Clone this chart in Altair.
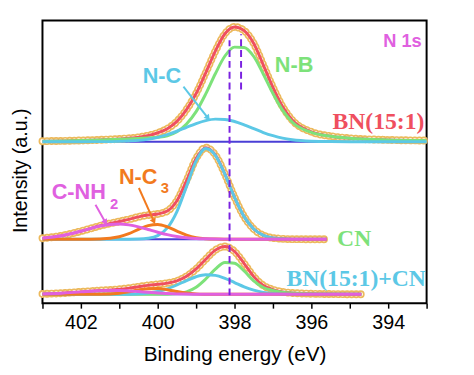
import altair as alt
import pandas as pd

# ---------------- data ----------------
# Top spectrum: BN(15:1)
x_top = [403, 402.5, 402, 401.5, 401, 400.5, 400, 399.75, 399.5, 399.25, 399, 398.75,
         398.5, 398.25, 398, 397.75, 397.5, 397.25, 397, 396.75, 396.5, 396, 395.5, 395, 394, 393]
top_fit = [0.5, 0.8, 1.2, 1.85, 2.8, 4.5, 8.9, 13.2, 20.6, 32.6, 48.9, 69.9,
           91.9, 109.6, 116.5, 112.8, 99.7, 77.8, 55.1, 35.6, 22.0, 10.0, 5.6, 3.5, 1.8, 1.2]
top_nb = [0.5, 0.8, 1.2, 1.8, 2.5, 3.2, 4.5, 6.0, 10.0, 18.0, 30.5, 48.5,
          69.0, 87.0, 96.0, 95.7, 86.5, 68.5, 49.0, 32.0, 20.0, 9.5, 5.5, 3.5, 1.8, 1.2]
top_nc = [0, 0, 0, 0.05, 0.3, 1.3, 4.4, 7.2, 10.6, 14.6, 18.4, 21.4,
          22.9, 22.6, 20.5, 17.1, 13.2, 9.3, 6.1, 3.6, 2.0, 0.5, 0.1, 0, 0, 0]

# Middle spectrum: CN
x_cn = [403, 402.5, 402, 401.5, 401, 400.75, 400.5, 400.25, 400, 399.75, 399.5, 399.25,
        399, 398.75, 398.5, 398.25, 398, 397.75, 397.5, 397.25, 397, 396.5, 396, 395.6]
cn_fit = [1.0, 3.5, 8.1, 13.6, 18.0, 20.1, 22.7, 24.5, 25.6, 28.6, 39.1, 59.4,
          81.9, 92.9, 85.5, 66.0, 42.5, 22.9, 10.3, 3.9, 1.2, 0.05, 0, 0]
cn_main = [0, 0, 0, 0, 0, 0.03, 0.17, 0.9, 3.6, 11.5, 28.1, 53.6,
           79.5, 92.0, 85.2, 65.9, 42.5, 22.9, 10.3, 3.9, 1.2, 0.05, 0, 0]
cn_nc3 = [0, 0, 0.01, 0.23, 2.5, 5.6, 10.0, 13.8, 14.9, 12.5, 8.2, 4.2,
          1.6, 0.5, 0.1, 0, 0, 0, 0, 0, 0, 0, 0, 0]
cn_cnh2 = [1.0, 3.5, 8.1, 13.4, 15.5, 14.5, 12.5, 9.8, 7.1, 4.6, 2.8, 1.55,
           0.8, 0.4, 0.15, 0.05, 0, 0, 0, 0, 0, 0, 0, 0]

# Bottom spectrum: BN(15:1)+CN
x_mix = [403, 402.5, 402, 401.5, 401, 400.75, 400.5, 400.25, 400, 399.75, 399.5, 399.25,
         399, 398.75, 398.5, 398.25, 398, 397.75, 397.5, 397.25, 397, 396.75, 396.5, 396,
         395.5, 395, 394.7]
mix_fit = [0.4, 1.2, 2.5, 3.9, 5.15, 6.3, 7.7, 9.1, 10.2, 11.4, 13.6, 18.3,
           25.8, 35.7, 44.9, 48.6, 43.5, 31.3, 18.0, 9.0, 4.8, 2.5, 1.4, 0.6, 0.3, 0.15, 0.1]
mix_nb = [0, 0, 0, 0, 0, 0, 0, 0, 0.03, 0.16, 0.74, 2.6,
          7.3, 15.6, 25.6, 32.3, 31.5, 23.7, 13.7, 7.0, 4.0, 2.2, 1.3, 0.6, 0.3, 0.15, 0.1]
mix_nc = [0, 0, 0, 0, 0.05, 0.17, 0.5, 1.3, 2.9, 5.6, 9.5, 14.0,
          17.9, 19.9, 19.3, 16.3, 12.0, 7.6, 4.3, 2.0, 0.8, 0.3, 0.1, 0, 0, 0, 0]
mix_nc3 = [0, 0, 0, 0.12, 1.2, 2.6, 4.4, 5.7, 5.9, 4.7, 2.9, 1.4,
           0.5, 0.15, 0, 0, 0, 0, 0, 0, 0, 0, 0, 0, 0, 0, 0]
mix_cnh2 = [0.4, 1.2, 2.5, 3.75, 3.9, 3.5, 2.8, 2.1, 1.4, 0.9, 0.5, 0.27,
            0.13, 0, 0, 0, 0, 0, 0, 0, 0, 0, 0, 0, 0, 0, 0]

# dashed reference lines (eV) and their vertical extents (a.u.)
dash_x = [398.13, 397.83]
dash_y0 = [8, 217]
dash_y1 = [267, 273]

# ---------------- build tables ----------------
OFF = {"top": 164, "cn": 65, "mix": 9}
panels = [
    ("top", x_top, {"fit": top_fit, "NB": top_nb, "NC": top_nc}),
    ("cn", x_cn, {"fit": cn_fit, "NC": cn_main, "NC3": cn_nc3, "CNH2": cn_cnh2}),
    ("mix", x_mix, {"fit": mix_fit, "NB": mix_nb, "NC": mix_nc, "NC3": mix_nc3, "CNH2": mix_cnh2}),
]
rows = []
for pname, xs, series in panels:
    for xv in xs:
        rows.append({"x": xv, "y": OFF[pname], "series": "base", "panel": pname})
    for sname, vals in series.items():
        for xv, v in zip(xs, vals):
            rows.append({"x": xv, "y": v + OFF[pname], "series": sname, "panel": pname})
df = pd.DataFrame(rows)

RED = "#EF4F5F"
GREEN = "#7DE27A"
CYAN = "#5CC8E6"
ORANGE = "#F27A1E"
MAGENTA = "#E060E0"
BASE = "#4A3FD6"
GOLD = "#ECB95C"
PURPLE = "#7A22E0"

xscale = alt.Scale(domain=[393, 403], reverse=True, nice=False, zero=False)
yscale = alt.Scale(domain=[0, 287], nice=False, zero=False)
xaxis = alt.Axis(title="Binding energy (eV)", values=list(range(393, 404)),
                 labelExpr="datum.value % 2 == 0 ? datum.label : ''",
                 grid=False, domain=False, tickColor="black", tickSize=5, tickWidth=1.5,
                 labelFont="Liberation Sans", labelFontSize=20, labelColor="black",
                 labelPadding=5, titleFont="Liberation Sans", titleFontSize=21,
                 titleFontWeight="normal", titleColor="black", titlePadding=11)
yaxis = alt.Axis(title="Intensity (a.u.)", labels=False, ticks=False, domain=False, grid=False,
                 titleFont="Liberation Sans", titleFontSize=20, titleFontWeight="normal",
                 titleColor="black", titlePadding=12, titleY=152)
X = alt.X("x:Q", scale=xscale, axis=xaxis)
Y = alt.Y("y:Q", scale=yscale, axis=yaxis)


def line(series, **kw):
    return (alt.Chart(df).transform_filter(alt.datum.series == series)
            .mark_line(interpolate="monotone", **kw)
            .encode(x=X, y=Y, detail="panel:N"))


layers = [
    line("base", color=BASE, strokeWidth=2),
    line("fit", color=GOLD, strokeWidth=8, strokeDash=[0.01, 4.6], strokeCap="round"),
    line("fit", color="white", strokeWidth=4.6, strokeDash=[0.01, 4.6], strokeCap="round"),
    line("fit", color=RED, strokeWidth=3),
    line("NB", color=GREEN, strokeWidth=3),
    line("NC", color=CYAN, strokeWidth=3),
    line("NC3", color=ORANGE, strokeWidth=3),
    line("CNH2", color=MAGENTA, strokeWidth=3),
]

rules = pd.DataFrame({"x": dash_x, "y": dash_y0, "y2": dash_y1})
layers.append(alt.Chart(rules).mark_rule(color=PURPLE, strokeWidth=2, strokeDash=[7, 4])
              .encode(x=X, y=Y, y2="y2:Q"))

# arrows
arrows = pd.DataFrame({
    "x": [399.33, 398.69, 401.62, 401.36, 400.49, 400.10],
    "y": [220, 188, 100, 82, 117, 83],
    "id": ["a", "a", "b", "b", "c", "c"],
    "c": [CYAN, CYAN, MAGENTA, MAGENTA, ORANGE, ORANGE],
})
heads = pd.DataFrame({
    "x": [398.69, 401.36, 400.10], "y": [188, 82, 83],
    "a": [142, 151, 156], "c": [CYAN, MAGENTA, ORANGE],
})
layers.append(alt.Chart(arrows).mark_line(strokeWidth=2)
              .encode(x=X, y=Y, detail="id:N", color=alt.Color("c:N", scale=None)))
layers.append(alt.Chart(heads).mark_point(shape="triangle-up", filled=True, opacity=1, size=45)
              .encode(x=X, y=Y, angle=alt.Angle("a:Q", scale=None), color=alt.Color("c:N", scale=None)))

# labels
sans = pd.DataFrame({
    "t": ["N-C", "N-B", "N 1s", "C-NH", "2", "N-C", "3"],
    "x": [400.39, 396.95, 394.13, 402.76, 401.24, 401.01, 399.92],
    "y": [223.3, 235, 260, 105.7, 95.7, 120.7, 111.7],
    "c": [CYAN, GREEN, MAGENTA, MAGENTA, MAGENTA, ORANGE, ORANGE],
    "s": [22, 22, 18.5, 22, 15, 22, 15],
})
serif = pd.DataFrame({
    "t": ["BN(15:1)", "CN", "BN(15:1)+CN"],
    "x": [395.45, 395.33, 396.65],
    "y": [176.7, 58.3, 17.7],
    "c": [RED, GREEN, CYAN],
    "s": [24, 24, 24],
})
for tdf, font in ((sans, "Liberation Sans"), (serif, "Liberation Serif")):
    layers.append(alt.Chart(tdf).mark_text(font=font, fontWeight="bold", align="left",
                                           baseline="alphabetic")
                  .encode(x=X, y=Y, text="t:N", color=alt.Color("c:N", scale=None),
                          size=alt.Size("s:Q", scale=None)))

chart = (alt.layer(*layers)
         .properties(width=390, height=287,
                     autosize=alt.AutoSizeParams(type="none"),
                     padding={"left": 35, "top": 10, "right": 40, "bottom": 60},
                     background="white")
         .configure_view(stroke="black", strokeWidth=2))

chart.save("out.html", embed_options={"renderer": "svg", "actions": False})
